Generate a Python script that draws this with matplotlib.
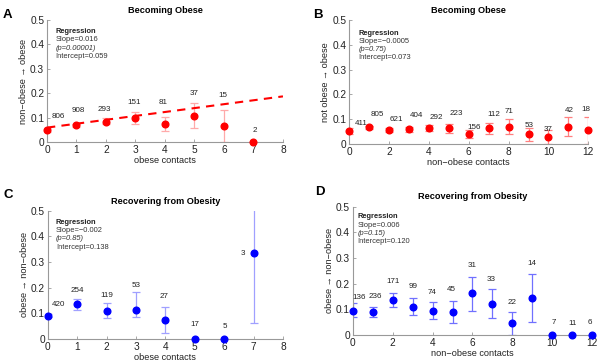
import matplotlib
matplotlib.use("Agg")
import matplotlib.pyplot as plt
import numpy as np

plt.rcParams['font.family'] = ['Liberation Sans', 'DejaVu Sans']

# ---- Panel A: becoming obese vs obese contacts
a_x = [0, 1, 2, 3, 4, 5, 6, 7]
a_mean = [0.048, 0.068, 0.083, 0.100, 0.075, 0.108, 0.067, 0.0]
a_lo = [0.040, 0.061, 0.072, 0.075, 0.045, 0.058, 0.0, 0.0]
a_hi = [0.056, 0.075, 0.098, 0.123, 0.103, 0.160, 0.130, 0.0]
a_n = [806, 908, 293, 151, 81, 37, 15, 2]
a_slope, a_intercept = 0.016, 0.059
# count-label positions (annotation layout)
a_lab_x = [0.38, 1.06, 1.96, 2.95, 3.94, 4.98, 5.97, 7.04]
a_lab_y = [0.103, 0.130, 0.133, 0.162, 0.160, 0.199, 0.192, 0.048]

# ---- Panel B: becoming obese vs non-obese contacts
b_x = list(range(13))
b_mean = [0.052, 0.067, 0.056, 0.060, 0.063, 0.063, 0.039, 0.063, 0.070, 0.039, 0.028, 0.070, 0.056]
b_lo = [0.040, 0.061, 0.049, 0.050, 0.051, 0.046, 0.023, 0.039, 0.039, 0.012, 0.0, 0.031, 0.0]
b_hi = [0.064, 0.073, 0.063, 0.070, 0.075, 0.079, 0.056, 0.086, 0.102, 0.064, 0.056, 0.110, 0.110]
b_n = [411, 805, 621, 404, 292, 223, 156, 112, 71, 53, 37, 42, 18]
b_lab_x = [0.59, 1.41, 2.38, 3.38, 4.38, 5.39, 6.26, 7.28, 8.0, 9.04, 10.0, 11.05, 11.88]
b_lab_y = [0.081, 0.117, 0.100, 0.114, 0.107, 0.121, 0.067, 0.120, 0.130, 0.073, 0.060, 0.137, 0.140]

# ---- Panel C: recovering vs obese contacts
c_x = [0, 1, 2, 3, 4, 5, 6, 7]
c_mean = [0.091, 0.135, 0.109, 0.114, 0.074, 0.0, 0.0, 0.334]
c_lo = [0.085, 0.113, 0.081, 0.087, 0.025, 0.0, 0.0, 0.061]
c_hi = [0.097, 0.156, 0.139, 0.182, 0.126, 0.0, 0.0, 0.55]
c_n = [420, 254, 119, 53, 27, 17, 5, 3]
c_lab_x = [0.36, 1.0, 2.0, 3.0, 3.95, 5.0, 6.02, 6.62]
c_lab_y = [0.135, 0.190, 0.171, 0.208, 0.165, 0.057, 0.048, 0.334]

# ---- Panel D: recovering vs non-obese contacts
d_x = list(range(13))
d_mean = [0.095, 0.088, 0.136, 0.110, 0.095, 0.088, 0.162, 0.122, 0.045, 0.143, 0.0, 0.0, 0.0]
d_lo = [0.071, 0.071, 0.108, 0.078, 0.061, 0.048, 0.095, 0.065, 0.0, 0.049, 0.0, 0.0, 0.0]
d_hi = [0.123, 0.108, 0.162, 0.143, 0.130, 0.131, 0.227, 0.179, 0.090, 0.238, 0.0, 0.0, 0.0]
d_n = [136, 236, 171, 99, 74, 45, 31, 33, 22, 14, 7, 11, 6]
d_lab_x = [0.33, 1.12, 2.0, 3.04, 3.96, 4.96, 5.99, 6.93, 7.96, 8.96, 10.08, 11.02, 11.9]
d_lab_y = [0.147, 0.152, 0.208, 0.188, 0.165, 0.178, 0.270, 0.218, 0.127, 0.279, 0.048, 0.045, 0.048]

fig = plt.figure(figsize=(6.0, 3.63), dpi=100)

def style(ax, xmax, xticks):
    ax.set_xlim(0, xmax)
    ax.set_ylim(0, 0.5)
    ax.set_xticks(xticks)
    ax.set_yticks([0, 0.1, 0.2, 0.3, 0.4, 0.5])
    ax.set_yticklabels(['0', '0.1', '0.2', '0.3', '0.4', '0.5'])
    for s in ['top', 'right']:
        ax.spines[s].set_visible(False)
    for s in ['left', 'bottom']:
        ax.spines[s].set_color('#999999')
        ax.spines[s].set_linewidth(0.8)
    ax.tick_params(direction='in', length=2, width=0.6, color='#999999',
                   labelsize=7.3, labelcolor='#222222', pad=2)
    ax.patch.set_alpha(0)

def panel(ax, x, mean, lo, hi, n, lab_x, lab_y, mcol, ecol):
    mean = np.array(mean); lo = np.array(lo); hi = np.array(hi)
    yerr = np.vstack([mean - lo, hi - mean])
    ax.errorbar(x, mean, yerr=yerr, fmt='none', ecolor=ecol, elinewidth=0.9,
                capsize=3, capthick=0.9, zorder=2)
    ax.plot(x, mean, 'o', color=mcol, markersize=4.8, clip_on=False, zorder=3)
    for lx, ly, ni in zip(lab_x, lab_y, n):
        ax.text(lx, ly, str(ni), ha='center', va='center',
                fontsize=5.8, color='#222222')

def regtext(ax, x0, y0, dy, slope, p, intercept):
    kw = dict(transform=ax.transAxes, fontsize=5.4, va='center')
    ax.text(x0, y0, 'Regression', fontweight='bold', color='#222222', **kw)
    ax.text(x0, y0 - dy, 'Slope=' + slope, color='#333333', **kw)
    ax.text(x0, y0 - 2 * dy, '(p=' + p + ')', style='italic', color='#333333', **kw)
    ax.text(x0, y0 - 3 * dy, 'Intercept=' + intercept, color='#333333', **kw)

# A
axA = fig.add_axes([0.0783, 0.6088, 0.3933, 0.3361])
style(axA, 8, range(0, 9))
xl = np.array([0, 8])
axA.plot(xl, a_intercept + a_slope * xl, '--', color='#ff0000', lw=1.5,
         dashes=(4, 3), zorder=2.5)
panel(axA, a_x, a_mean, a_lo, a_hi, a_n, a_lab_x, a_lab_y, '#ff0000', '#ffaaaa')
regtext(axA, 0.035, 0.906, 0.068, '0.016', '0.00001', '0.059')
axA.set_title('Becoming Obese', fontsize=6.6, fontweight='bold', pad=5)
axA.set_xlabel('obese contacts', fontsize=6.6, labelpad=1, color='#222222')
axA.set_ylabel('non\u2212obese \u2192 obese', fontsize=6.6, labelpad=1.5, color='#222222')

# B
axB = fig.add_axes([0.5822, 0.6033, 0.3983, 0.3416])
style(axB, 12, range(0, 13, 2))
panel(axB, b_x, b_mean, b_lo, b_hi, b_n, b_lab_x, b_lab_y, '#ff0000', '#ff7f7f')
regtext(axB, 0.038, 0.895, 0.065, '\u22120.0005', '0.75', '0.073')
axB.set_title('Becoming Obese', fontsize=6.6, fontweight='bold', pad=5)
axB.set_xlabel('non\u2212obese contacts', fontsize=6.6, labelpad=1, color='#222222')
axB.set_ylabel('not obese \u2192 obese', fontsize=6.6, labelpad=1.5, color='#222222')

# C
axC = fig.add_axes([0.0795, 0.0661, 0.3922, 0.3534])
style(axC, 8, range(0, 9))
panel(axC, c_x, c_mean, c_lo, c_hi, c_n, c_lab_x, c_lab_y, '#0000ff', '#a0a0ff')
regtext(axC, 0.035, 0.91, 0.065, '\u22120.002', '0.85', '0.138')
axC.set_title('Recovering from Obesity', fontsize=6.6, fontweight='bold', pad=5)
axC.set_xlabel('obese contacts', fontsize=6.6, labelpad=1, color='#222222')
axC.set_ylabel('obese \u2192 non\u2212obese', fontsize=6.6, labelpad=1.5, color='#222222')

# D
axD = fig.add_axes([0.5878, 0.0771, 0.3993, 0.3534])
style(axD, 12, range(0, 13, 2))
panel(axD, d_x, d_mean, d_lo, d_hi, d_n, d_lab_x, d_lab_y, '#0000ff', '#7070ff')
regtext(axD, 0.02, 0.922, 0.065, '0.006', '0.15', '0.120')
axD.set_title('Recovering from Obesity', fontsize=6.6, fontweight='bold', pad=5.5)
axD.set_xlabel('non\u2212obese contacts', fontsize=6.6, labelpad=1, color='#222222')
axD.set_ylabel('obese \u2192 non\u2212obese', fontsize=6.6, labelpad=1.5, color='#222222')

# panel letters
for lab, (px, py) in zip('ABCD', [(3, 18), (313, 18), (3, 198), (315, 195)]):
    fig.text(px / 600, 1 - py / 363, lab, fontsize=9.5, fontweight='bold', ha='left', va='baseline')

fig.savefig('out.png', dpi=100)
